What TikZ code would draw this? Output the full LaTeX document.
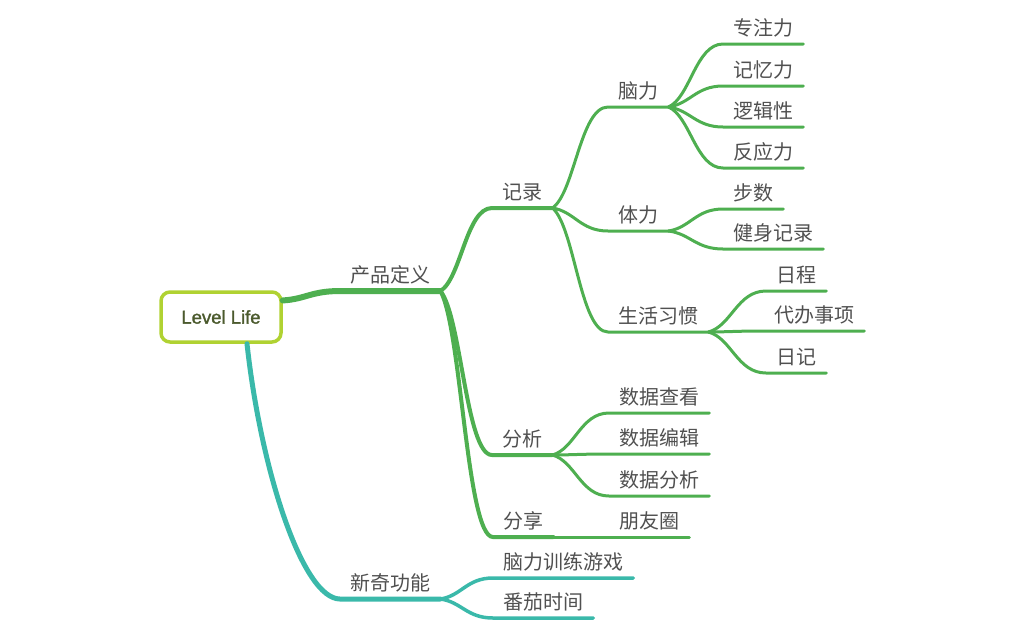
\documentclass[tikz,border=0pt]{standalone}
\usepackage{fontspec}
\setmainfont{Liberation Sans}
\newfontfamily\cjk{Noto Sans CJK SC}
\newfontfamily\rootfont[FakeBold=1.5]{Liberation Sans}
\usetikzlibrary{calc}
\definecolor{mapgreen}{RGB}{78,175,80}
\definecolor{mapteal}{RGB}{58,185,170}
\definecolor{maplime}{RGB}{176,210,50}
\definecolor{rootink}{RGB}{75,90,45}
\definecolor{topicink}{RGB}{80,80,80}
\tikzset{
 twig/.style={to path={let \p1=(\tikztostart), \p2=(\tikztotarget) in
   .. controls (\x1+0.4*\x2-0.4*\x1, \y1+0.15*\y2-0.15*\y1) and (0.5*\x1+0.5*\x2, \y2) .. (\tikztotarget)}},
 topic/.style={anchor=south west, inner xsep=10pt, inner ysep=8pt, text depth=0pt,
   text=topicink, font=\cjk\fontsize{20}{24}\selectfont},
 rootbox/.style={draw=maplime, line width=3.5pt, rounded corners=9pt, fill=white,
   minimum width=120pt, minimum height=50pt, text=rootink, font=\rootfont\fontsize{18.5}{20}\selectfont},
 lvone/.style={draw=mapgreen, line width=6pt, line cap=round},
 lvtwo/.style={draw=mapgreen, line width=4pt, line cap=round},
 lvthree/.style={draw=mapgreen, line width=3pt, line cap=round},
 tealone/.style={draw=mapteal, line width=5pt, line cap=round},
 tealtwo/.style={draw=mapteal, line width=3.5pt, line cap=round}
}
\begin{document}
\begin{tikzpicture}[x=1pt,y=-1pt]
 \useasboundingbox (0,0) rectangle (1024,633);
 % topics
 \node[rootbox] (root) at (221,317) {Level Life};
 \node[topic] (cpdy) at (340,291) {产品定义};
 \node[topic] (jilu) at (492,208) {记录};
 \node[topic] (fenxi) at (492,455) {分析};
 \node[topic] (fenxiang) at (493,537) {分享};
 \node[topic] (pyq) at (609,537) {朋友圈};
 \node[topic] (naoli) at (608,107) {脑力};
 \node[topic] (tili) at (608,231) {体力};
 \node[topic] (shxg) at (608,332) {生活习惯};
 \node[topic] (zzl) at (723,44) {专注力};
 \node[topic] (jyl) at (723,86) {记忆力};
 \node[topic] (ljx) at (723,127) {逻辑性};
 \node[topic] (fyl) at (723,168) {反应力};
 \node[topic] (bushu) at (723,209) {步数};
 \node[topic] (jsjl) at (723,249) {健身记录};
 \node[topic] (richeng) at (766,291) {日程};
 \node[topic] (dbsx) at (764,331) {代办事项};
 \node[topic] (riji) at (766,373) {日记};
 \node[topic] (sjck) at (609,413) {数据查看};
 \node[topic] (sjbj) at (609,454) {数据编辑};
 \node[topic] (sjfx) at (609,496) {数据分析};
 \node[topic] (xqgn) at (340,599) {新奇功能};
 \node[topic] (nlxl) at (493,578) {脑力训练游戏};
 \node[topic] (fqsj) at (493,618) {番茄时间};
 % green branch
 \draw[lvone] (root.15) to[twig] (cpdy.south west) -- (cpdy.south east);
 \foreach \k in {jilu,fenxi,fenxiang}
  \draw[lvtwo] (cpdy.south east) to[twig] (\k.south west) -- (\k.south east);
 \draw[lvthree] (fenxiang.south east) -- (pyq.south west) -- (pyq.south east);
 \foreach \k in {naoli,tili,shxg}
  \draw[lvthree] (jilu.south east) to[twig] (\k.south west) -- (\k.south east);
 \foreach \k in {zzl,jyl,ljx,fyl}
  \draw[lvthree] (naoli.south east) to[twig] (\k.south west) -- (\k.south east);
 \foreach \k in {bushu,jsjl}
  \draw[lvthree] (tili.south east) to[twig] (\k.south west) -- (\k.south east);
 \foreach \k in {richeng,dbsx,riji}
  \draw[lvthree] (shxg.south east) to[twig] (\k.south west) -- (\k.south east);
 \foreach \k in {sjck,sjbj,sjfx}
  \draw[lvthree] (fenxi.south east) to[twig] (\k.south west) -- (\k.south east);
 % teal branch
 \draw[tealone] ([xshift=26pt]root.south) .. controls +(14,128) and +(-37,0) .. (xqgn.south west) -- (xqgn.south east);
 \foreach \k in {nlxl,fqsj}
  \draw[tealtwo] (xqgn.south east) to[twig] (\k.south west) -- (\k.south east);
\end{tikzpicture}
\end{document}
